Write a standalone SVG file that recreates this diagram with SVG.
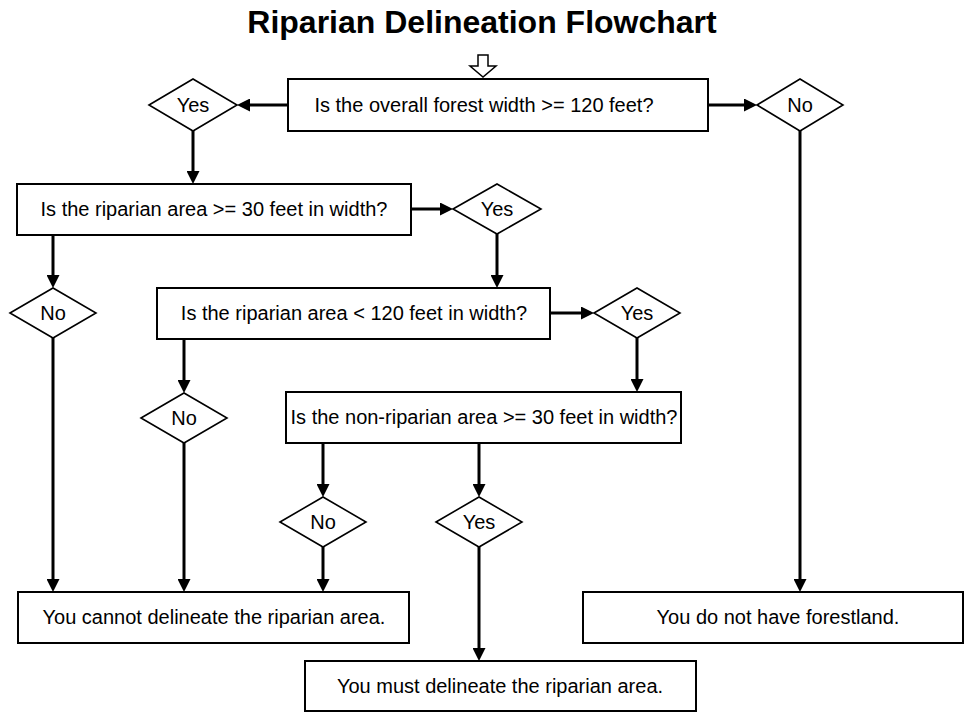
<svg xmlns="http://www.w3.org/2000/svg" width="964" height="713" viewBox="0 0 964 713">
<defs>
<style>
.box{fill:#fff;stroke:#000;stroke-width:2}
.dia{fill:#fff;stroke:#000;stroke-width:1.6}
.t{font-family:"Liberation Sans",Arial,sans-serif;font-size:20px;fill:#000;text-anchor:middle}
.title{font-family:"Liberation Sans",Arial,sans-serif;font-size:32px;font-weight:bold;fill:#000;text-anchor:middle}
.c{fill:none;stroke:#000;stroke-width:3;marker-end:url(#ah)}
</style>
<marker id="ah" markerUnits="userSpaceOnUse" markerWidth="13" markerHeight="13" viewBox="0 0 13 13" refX="7" refY="6.5" orient="auto"><path d="M0,0 L13,6.5 L0,13 z" fill="#000"/></marker>
</defs>
<rect width="964" height="713" fill="#fff"/>
<text class="title" x="482" y="33">Riparian Delineation Flowchart</text>
<path id="start-arrow" d="M478,55 H488 V66 H496 L483,77 L470,66 H478 Z" fill="#fff" stroke="#000" stroke-width="1.5"/>
<g id="connectors">
<path class="c" d="M288,105 H243"/>
<path class="c" d="M708,105 H751"/>
<path class="c" d="M193,131 V178"/>
<path class="c" d="M411,209 H447"/>
<path class="c" d="M497,234 V282"/>
<path class="c" d="M53,235 V282"/>
<path class="c" d="M53,338 V586"/>
<path class="c" d="M550,313 H588"/>
<path class="c" d="M637,338 V386"/>
<path class="c" d="M184,339 V387"/>
<path class="c" d="M184,443 V586"/>
<path class="c" d="M323,443 V491"/>
<path class="c" d="M323,547 V586"/>
<path class="c" d="M479,443 V491"/>
<path class="c" d="M479,547 V655"/>
<path class="c" d="M800,131 V586"/>
</g>
<g id="q1"><rect class="box" x="288" y="79" width="420" height="52"/><text class="t" x="484" y="112">Is the overall forest width &gt;= 120 feet?</text></g>
<g id="yes1"><polygon class="dia" points="149,105 193,79 237,105 193,131"/><text class="t" x="193" y="112">Yes</text></g>
<g id="no1"><polygon class="dia" points="757,105 800,79 843,105 800,131"/><text class="t" x="800" y="112">No</text></g>
<g id="q2"><rect class="box" x="17" y="184" width="394" height="51"/><text class="t" x="214" y="216">Is the riparian area &gt;= 30 feet in width?</text></g>
<g id="yes2"><polygon class="dia" points="453,209 497,184 541,209 497,234"/><text class="t" x="497" y="216">Yes</text></g>
<g id="no2"><polygon class="dia" points="10,313 53,288 96,313 53,338"/><text class="t" x="53" y="320">No</text></g>
<g id="q3"><rect class="box" x="157" y="288" width="393" height="51"/><text class="t" x="354" y="320">Is the riparian area &lt; 120 feet in width?</text></g>
<g id="yes3"><polygon class="dia" points="594,313 637,288 680,313 637,338"/><text class="t" x="637" y="320">Yes</text></g>
<g id="no3"><polygon class="dia" points="141,418 184,393 227,418 184,443"/><text class="t" x="184" y="425">No</text></g>
<g id="q4"><rect class="box" x="286" y="392" width="395" height="51"/><text class="t" x="484" y="424">Is the non-riparian area &gt;= 30 feet in width?</text></g>
<g id="no4"><polygon class="dia" points="280,522 323,497 366,522 323,547"/><text class="t" x="323" y="529">No</text></g>
<g id="yes4"><polygon class="dia" points="436,522 479,497 522,522 479,547"/><text class="t" x="479" y="529">Yes</text></g>
<g id="cannot"><rect class="box" x="18" y="592" width="391" height="51"/><text class="t" x="214" y="624">You cannot delineate the riparian area.</text></g>
<g id="noforest"><rect class="box" x="583" y="592" width="380" height="51"/><text class="t" x="778" y="624">You do not have forestland.</text></g>
<g id="must"><rect class="box" x="305" y="661" width="391" height="50"/><text class="t" x="500" y="693">You must delineate the riparian area.</text></g>
</svg>
